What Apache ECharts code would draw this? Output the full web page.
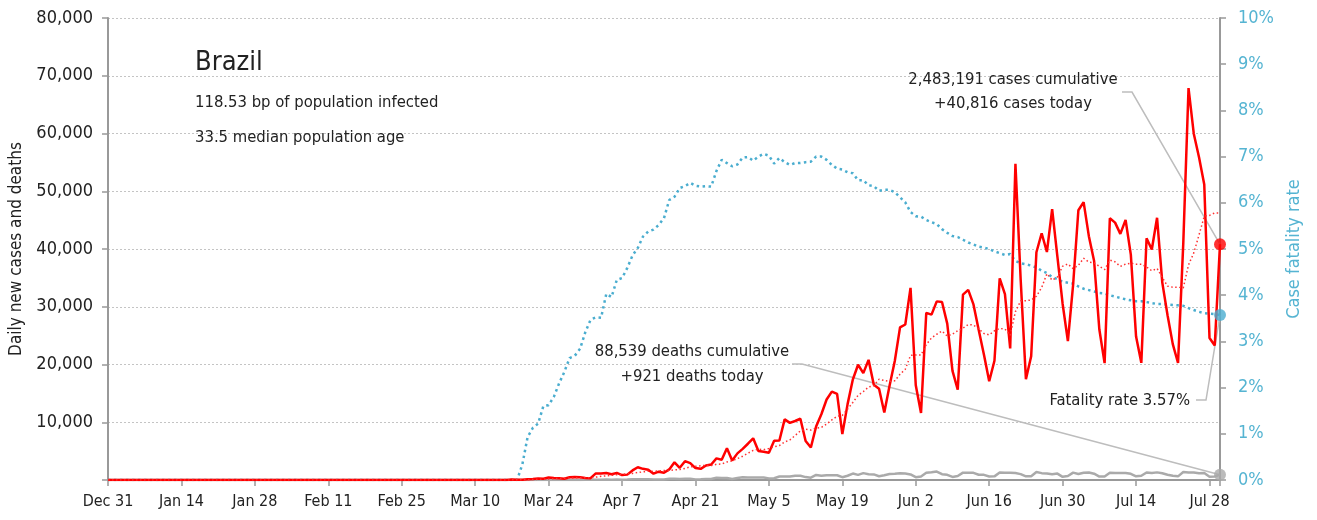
<!DOCTYPE html>
<html>
<head>
<meta charset="utf-8">
<title>Brazil</title>
<script src="https://cdn.jsdelivr.net/npm/echarts@6/dist/echarts.min.js"></script>
<style>
  html, body { margin: 0; padding: 0; background: #fff; }
  #main { width: 1317px; height: 520px; }
</style>
</head>
<body>
<div id="main"></div>
<script>
// day 0 = Dec 31, one value per day; arrays start at startDay, the days before are 0
var startDay = 77;
var lastDay = 212;

var tickLabels = ['Dec 31', 'Jan 14', 'Jan 28', 'Feb 11', 'Feb 25', 'Mar 10', 'Mar 24', 'Apr 7',
    'Apr 21', 'May 5', 'May 19', 'Jun 2', 'Jun 16', 'Jun 30', 'Jul 14', 'Jul 28'];

// daily new cases
var newCases = [
    80, 30, 60, 140, 190, 280, 220,
    420, 350, 310, 230, 480, 500, 490,
    350, 320, 1140, 1120, 1210, 1010, 1220,
    850, 930, 1660, 2210, 1930, 1780, 1090,
    1440, 1260, 1830, 3060, 2110, 3260, 2920,
    2060, 1930, 2500, 2680, 3740, 3500, 5510,
    3380, 4610, 5390, 6280, 7220, 5020, 4900,
    4730, 6790, 6840, 10500, 9890, 10220, 10610,
    6760, 5630, 9260, 11390, 13940, 15310, 14920,
    7940, 13140, 17410, 19950, 18510, 20800, 16510,
    15810, 11690, 16320, 20600, 26420, 26930, 33270,
    16410, 11600, 28940, 28630, 30930, 30830, 27080,
    18910, 15650, 32090, 32910, 30410, 25980, 21700,
    17110, 20650, 34920, 32190, 22770, 54770, 34670,
    17460, 21430, 39440, 42730, 39480, 46910, 38690,
    30480, 24050, 33850, 46710, 48110, 42220, 37920,
    26050, 20230, 45310, 44570, 42620, 45050, 39020,
    24830, 20290, 41860, 39920, 45400, 34180, 28530,
    23530, 20260, 41010, 67860, 59960, 55890, 51150,
    24580, 23280, 40816
];

// 7-day average of new cases (dotted red)
var casesAvg = [
    30, 30, 40, 50, 80, 120, 140,
    190, 240, 270, 290, 330, 360, 400,
    390, 380, 500, 630, 730, 810, 910,
    980, 1070, 1140, 1300, 1400, 1510, 1490,
    1580, 1630, 1650, 1770, 1800, 2010, 2270,
    2360, 2450, 2550, 2490, 2720, 2760, 3130,
    3320, 3700, 4120, 4630, 5130, 5340, 5260,
    5450, 5760, 5970, 6570, 6950, 7700, 8510,
    8800, 8640, 8980, 9110, 9690, 10410, 11030,
    11200, 12270, 13430, 14660, 15310, 16100, 16320,
    17450, 17240, 17090, 17180, 18310, 19180, 21580,
    21660, 21650, 23450, 24600, 25240, 25800, 24920,
    25270, 25850, 26300, 26910, 26840, 26150, 25380,
    25120, 25840, 26240, 26140, 25050, 29160, 31010,
    31060, 31170, 31820, 33320, 35710, 34590, 35160,
    37020, 37400, 36600, 37170, 38400, 37730, 37620,
    36990, 36440, 38080, 37770, 36990, 37390, 37550,
    37380, 37380, 36890, 36230, 36630, 35070, 33570,
    33390, 33380, 33260, 37250, 39330, 42430, 45670,
    45820, 46250, 46220
];

// daily deaths
var newDeaths = [
    0, 0, 1, 3, 3, 4, 7,
    7, 9, 12, 11, 20, 15, 19,
    25, 23, 42, 39, 84, 35, 86,
    41, 67, 114, 133, 141, 115, 68,
    99, 105, 204, 204, 188, 217, 213,
    108, 113, 166, 165, 407, 357, 346,
    189, 338, 474, 449, 435, 428, 421,
    280, 300, 600, 620, 610, 750, 730,
    500, 400, 880, 750, 840, 820, 820,
    490, 740, 1120, 890, 1190, 1000, 970,
    650, 810, 1040, 1090, 1160, 1120, 960,
    480, 620, 1260, 1350, 1470, 1010, 900,
    530, 680, 1270, 1270, 1240, 910, 890,
    610, 630, 1280, 1270, 1240, 1210, 1020,
    640, 650, 1370, 1190, 1140, 990, 1110,
    550, 690, 1280, 1040, 1250, 1290, 1090,
    600, 620, 1250, 1220, 1220, 1210, 1070,
    630, 730, 1300, 1230, 1320, 1160, 920,
    720, 630, 1370, 1280, 1310, 1160, 1210,
    560, 610, 921
];

// case fatality rate, %
var fatalityRate = [
    0, 0, 0.34, 0.93, 1.13, 1.22, 1.60,
    1.62, 1.80, 2.09, 2.34, 2.64, 2.69, 2.84,
    3.20, 3.47, 3.52, 3.51, 4.03, 3.96, 4.33,
    4.37, 4.59, 4.86, 5.02, 5.27, 5.38, 5.42,
    5.52, 5.67, 6.06, 6.13, 6.32, 6.36, 6.43,
    6.37, 6.35, 6.36, 6.35, 6.69, 6.93, 6.86,
    6.79, 6.83, 6.98, 6.99, 6.91, 7.00, 7.06,
    7.02, 6.85, 6.97, 6.88, 6.82, 6.86, 6.86,
    6.88, 6.89, 7.00, 7.00, 6.93, 6.82, 6.74,
    6.72, 6.66, 6.64, 6.49, 6.49, 6.38, 6.36,
    6.26, 6.28, 6.28, 6.23, 6.12, 6.01, 5.80,
    5.71, 5.70, 5.63, 5.58, 5.54, 5.43, 5.35,
    5.28, 5.26, 5.20, 5.14, 5.10, 5.05, 5.03,
    5.00, 4.95, 4.91, 4.87, 4.89, 4.74, 4.69,
    4.67, 4.64, 4.60, 4.53, 4.48, 4.39, 4.35,
    4.29, 4.27, 4.25, 4.19, 4.14, 4.11, 4.08,
    4.05, 4.04, 4.00, 3.97, 3.94, 3.91, 3.89,
    3.87, 3.87, 3.85, 3.83, 3.81, 3.81, 3.80,
    3.79, 3.78, 3.77, 3.72, 3.68, 3.64, 3.61,
    3.60, 3.59, 3.57
];

var font = "'Liberation Sans Narrow', 'DejaVu Sans Condensed', 'Roboto', sans-serif";
var red = '#ff0000';
var blue = '#4aadcf';
var grey = '#aaaaaa';

// [day, value] pairs, zero before the first recorded day
function toSeries(values) {
    var out = [];
    for (var d = 0; d < startDay; d++) {
        out.push([d, 0]);
    }
    for (var i = 0; i < values.length; i++) {
        out.push([startDay + i, values[i]]);
    }
    return out;
}

var myChart = echarts.init(document.getElementById('main'));
var last = newCases.length - 1;

var option = {
    animation: false,
    textStyle: { fontFamily: font },
    grid: { left: 108, right: 97, top: 18, bottom: 40 },
    xAxis: {
        type: 'value',
        min: 0,
        max: lastDay,
        interval: 14,
        axisLine: { lineStyle: { color: '#999', width: 2 } },
        axisTick: { length: 6, lineStyle: { color: '#999', width: 1.5 } },
        axisLabel: {
            color: '#222', fontSize: 16, margin: 14, fontFamily: font,
            formatter: function (v) { return v % 14 === 0 ? tickLabels[v / 14] : ''; }
        },
        splitLine: { show: false }
    },
    yAxis: [
        {
            type: 'value',
            min: 0,
            max: 80000,
            interval: 10000,
            name: 'Daily new cases and deaths',
            nameLocation: 'middle',
            nameGap: 82,
            nameTextStyle: { color: '#222', fontSize: 17, fontFamily: font },
            axisLine: { show: true, lineStyle: { color: '#999', width: 2 } },
            axisTick: { show: true, length: 6, lineStyle: { color: '#999', width: 1.5 } },
            axisLabel: {
                color: '#222', fontSize: 18, margin: 15, fontFamily: font,
                formatter: function (v) { return v === 0 ? '' : v.toLocaleString('en-US'); }
            },
            splitLine: { show: true, lineStyle: { color: '#c4c4c4', type: [2, 2], width: 1 } }
        },
        {
            type: 'value',
            min: 0,
            max: 10,
            interval: 1,
            position: 'right',
            name: 'Case fatality rate',
            nameLocation: 'middle',
            nameGap: 58,
            nameTextStyle: { color: '#55b4d2', fontSize: 18, fontFamily: font },
            axisLine: { show: true, lineStyle: { color: '#999', width: 2 } },
            axisTick: { show: true, length: 6, lineStyle: { color: '#999', width: 1.5 } },
            axisLabel: {
                color: '#55b4d2', fontSize: 18, margin: 18, fontFamily: font,
                formatter: '{value}%'
            },
            splitLine: { show: false }
        }
    ],
    series: [
        {
            name: 'Case fatality rate',
            type: 'line',
            yAxisIndex: 1,
            showSymbol: false,
            data: toSeries(fatalityRate),
            lineStyle: { color: blue, width: 2.5, type: [2.5, 3.5] }
        },
        {
            name: 'Deaths',
            type: 'line',
            showSymbol: false,
            data: toSeries(newDeaths),
            lineStyle: { color: grey, width: 2.5 }
        },
        {
            name: 'New cases',
            type: 'line',
            showSymbol: false,
            data: toSeries(newCases),
            lineStyle: { color: red, width: 2.5 }
        },
        {
            name: '7-day average',
            type: 'line',
            showSymbol: false,
            data: toSeries(casesAvg),
            lineStyle: { color: '#ff3030', width: 1.5, type: [1.5, 2.5] }
        },
        {
            type: 'scatter',
            symbolSize: 12,
            z: 5,
            data: [
                { value: [startDay + last, newCases[last]], itemStyle: { color: red } },
                { value: [startDay + last, newDeaths[last]], itemStyle: { color: grey } }
            ]
        },
        {
            type: 'scatter',
            yAxisIndex: 1,
            symbolSize: 12,
            z: 5,
            data: [
                { value: [startDay + last, fatalityRate[last]], itemStyle: { color: blue } }
            ]
        }
    ]
};
myChart.setOption(option);

// annotations and leader lines to the last points
var pCase = myChart.convertToPixel({ xAxisIndex: 0, yAxisIndex: 0 }, [startDay + last, newCases[last]]);
var pDeath = myChart.convertToPixel({ xAxisIndex: 0, yAxisIndex: 0 }, [startDay + last, newDeaths[last]]);
var pRate = myChart.convertToPixel({ xAxisIndex: 0, yAxisIndex: 1 }, [startDay + last, fatalityRate[last]]);

function label(text, x, y, size, align) {
    return {
        type: 'text',
        x: x,
        y: y,
        z: 10,
        style: {
            text: text,
            fill: '#222',
            fontSize: size,
            fontFamily: font,
            align: align || 'left',
            verticalAlign: 'middle'
        }
    };
}

function leader(points) {
    return {
        type: 'polyline',
        z: 3,
        shape: { points: points },
        style: { stroke: '#bdbdbd', lineWidth: 1.5, fill: null }
    };
}

myChart.setOption({
    graphic: [
        label('Brazil', 195, 63, 27),
        label('118.53 bp of population infected', 195, 103, 16.5),
        label('33.5 median population age', 195, 138, 16.5),
        label('2,483,191 cases cumulative', 1013, 80, 16.5, 'center'),
        label('+40,816 cases today', 1013, 104, 16.5, 'center'),
        label('88,539 deaths cumulative', 692, 352, 16.5, 'center'),
        label('+921 deaths today', 692, 377, 16.5, 'center'),
        label('Fatality rate 3.57%', 1190, 401, 16.5, 'right'),
        leader([[1122, 92], [1132, 92], pCase]),
        leader([[792, 364], [802, 364], pDeath]),
        leader([[1196, 400], [1206, 400], pRate])
    ]
});
</script>
</body>
</html>
